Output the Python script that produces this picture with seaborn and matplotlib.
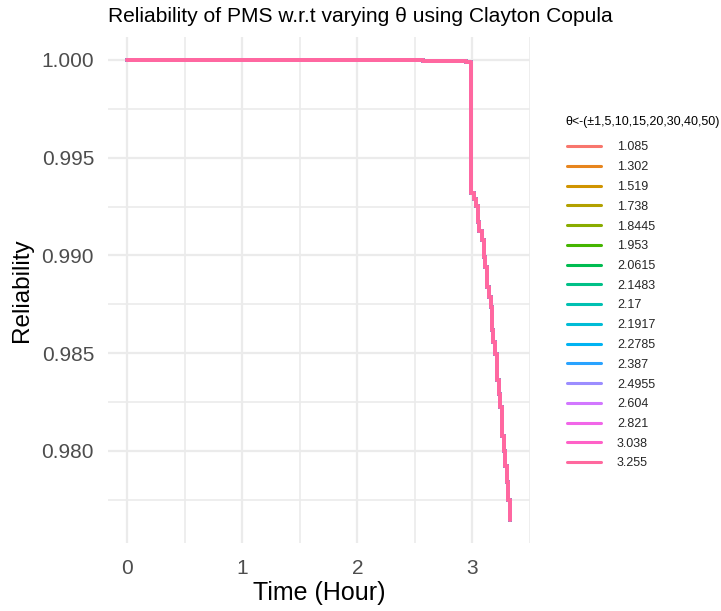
import numpy as np
import pandas as pd
import matplotlib
matplotlib.use("Agg")
import matplotlib.pyplot as plt
import seaborn as sns

# ---- data ----
theta = ["1.085", "1.302", "1.519", "1.738", "1.8445", "1.953", "2.0615", "2.1483",
         "2.17", "2.1917", "2.2785", "2.387", "2.4955", "2.604", "2.821", "3.038", "3.255"]
time_hr = [0.0, 2.57, 2.94, 2.99, 3.01, 3.03, 3.05, 3.06, 3.08, 3.10, 3.11, 3.13, 3.14,
           3.16, 3.17, 3.18, 3.20, 3.21, 3.23, 3.24, 3.26, 3.275, 3.286, 3.30, 3.31, 3.325]
reliability = [1.0, 0.99993, 0.9999, 0.99320, 0.99286, 0.99251, 0.99169, 0.99123, 0.99080,
               0.98994, 0.98938, 0.98840, 0.98789, 0.98737, 0.98618, 0.98558, 0.98497,
               0.98361, 0.98292, 0.98223, 0.98078, 0.98001, 0.97924, 0.97840, 0.97750,
               0.97647]
x_ticks = [0, 1, 2, 3]
y_ticks = [0.980, 0.985, 0.990, 0.995, 1.000]


def hcl_hex(h, c=100.0, l=65.0):
    hr = np.deg2rad(h)
    u, v = c * np.cos(hr), c * np.sin(hr)
    Xn, Yn, Zn = 95.047, 100.0, 108.883
    d = Xn + 15 * Yn + 3 * Zn
    un, vn = 4 * Xn / d, 9 * Yn / d
    Y = Yn * ((l + 16) / 116) ** 3
    up = u / (13 * l) + un
    vp = v / (13 * l) + vn
    X = Y * 9 * up / (4 * vp)
    Z = Y * (12 - 3 * up - 20 * vp) / (4 * vp)
    xyz = np.array([X, Y, Z]) / 100.0
    M = np.array([[3.2404542, -1.5371385, -0.4985314],
                  [-0.9692660, 1.8760108, 0.0415560],
                  [0.0556434, -0.2040259, 1.0572252]])
    rgb = M @ xyz
    rgb = np.where(rgb <= 0.0031308, 12.92 * rgb,
                   1.055 * np.clip(rgb, 0, None) ** (1 / 2.4) - 0.055)
    rgb = np.clip(rgb, 0, 1)
    return matplotlib.colors.to_hex(rgb)


n = len(theta)
hues = np.linspace(15, 375, n + 1)[:n]
palette = [hcl_hex(h) for h in hues]

rows = []
for th in theta:
    for t, r in zip(time_hr, reliability):
        rows.append({"Time": t, "Reliability": r, "theta": th})
df = pd.DataFrame(rows)

sns.set_theme(style="white")
plt.rcParams["font.family"] = ["Liberation Sans", "DejaVu Sans"]

W, H = 721, 611
fig = plt.figure(figsize=(W / 100, H / 100), dpi=100)
ax = fig.add_axes([108 / W, 1 - 542.7 / H, 422 / W, 505.7 / H])

sns.lineplot(data=df, x="Time", y="Reliability", hue="theta", hue_order=theta,
             palette=palette, estimator=None, drawstyle="steps-post",
             linewidth=2.7, ax=ax, legend="full")

xmin, xmax = min(time_hr), max(time_hr)
xr = xmax - xmin
ax.set_xlim(xmin - 0.05 * xr, xmax + 0.05 * xr)
ymin, ymax = min(reliability), max(reliability)
yr = ymax - ymin
ax.set_ylim(ymin - 0.05 * yr, ymax + 0.05 * yr)

ax.set_xticks(x_ticks)
ax.set_xticklabels([str(v) for v in x_ticks])
ax.set_yticks(y_ticks)
ax.set_yticklabels([f"{v:.3f}" for v in y_ticks])
ax.set_xticks([0.5, 1.5, 2.5, 3.5], minor=True)
ax.set_yticks([0.9775, 0.9825, 0.9875, 0.9925, 0.9975], minor=True)
ax.grid(True, which="major", color="#EBEBEB", linewidth=1.6)
ax.grid(True, which="minor", color="#EBEBEB", linewidth=1.2)
ax.set_axisbelow(True)
for s in ax.spines.values():
    s.set_visible(False)
ax.tick_params(axis="both", which="both", length=0, labelsize=15,
               labelcolor="#4D4D4D")
ax.tick_params(axis="x", pad=12)
ax.tick_params(axis="y", pad=10)

ax.set_xlabel("Time (Hour)", fontsize=18, color="black", labelpad=2)
ax.set_ylabel("Reliability", fontsize=17.5, color="black", labelpad=6)
fig.text(108 / W, 1 - 21.7 / H, "Reliability of PMS w.r.t varying θ using Clayton Copula",
         fontsize=15.1, color="black", ha="left", va="baseline")

handles, labels = ax.get_legend_handles_labels()
ax.get_legend().remove()
fig.text(565 / W, 1 - 121.7 / H, "θ<-(±1,5,10,15,20,30,40,50)", fontsize=9,
         color="black", ha="left", va="center")
leg = fig.legend(handles, labels, loc="upper left",
                 bbox_to_anchor=(567 / W, 1 - 141.5 / H),
                 frameon=False, fontsize=9, borderpad=0, borderaxespad=0,
                 handlelength=2.72, handletextpad=1.28, labelspacing=0.62)
for h in leg.legend_handles:
    h.set_linewidth(2.2)

fig.savefig("out.png", dpi=100, facecolor="white")
